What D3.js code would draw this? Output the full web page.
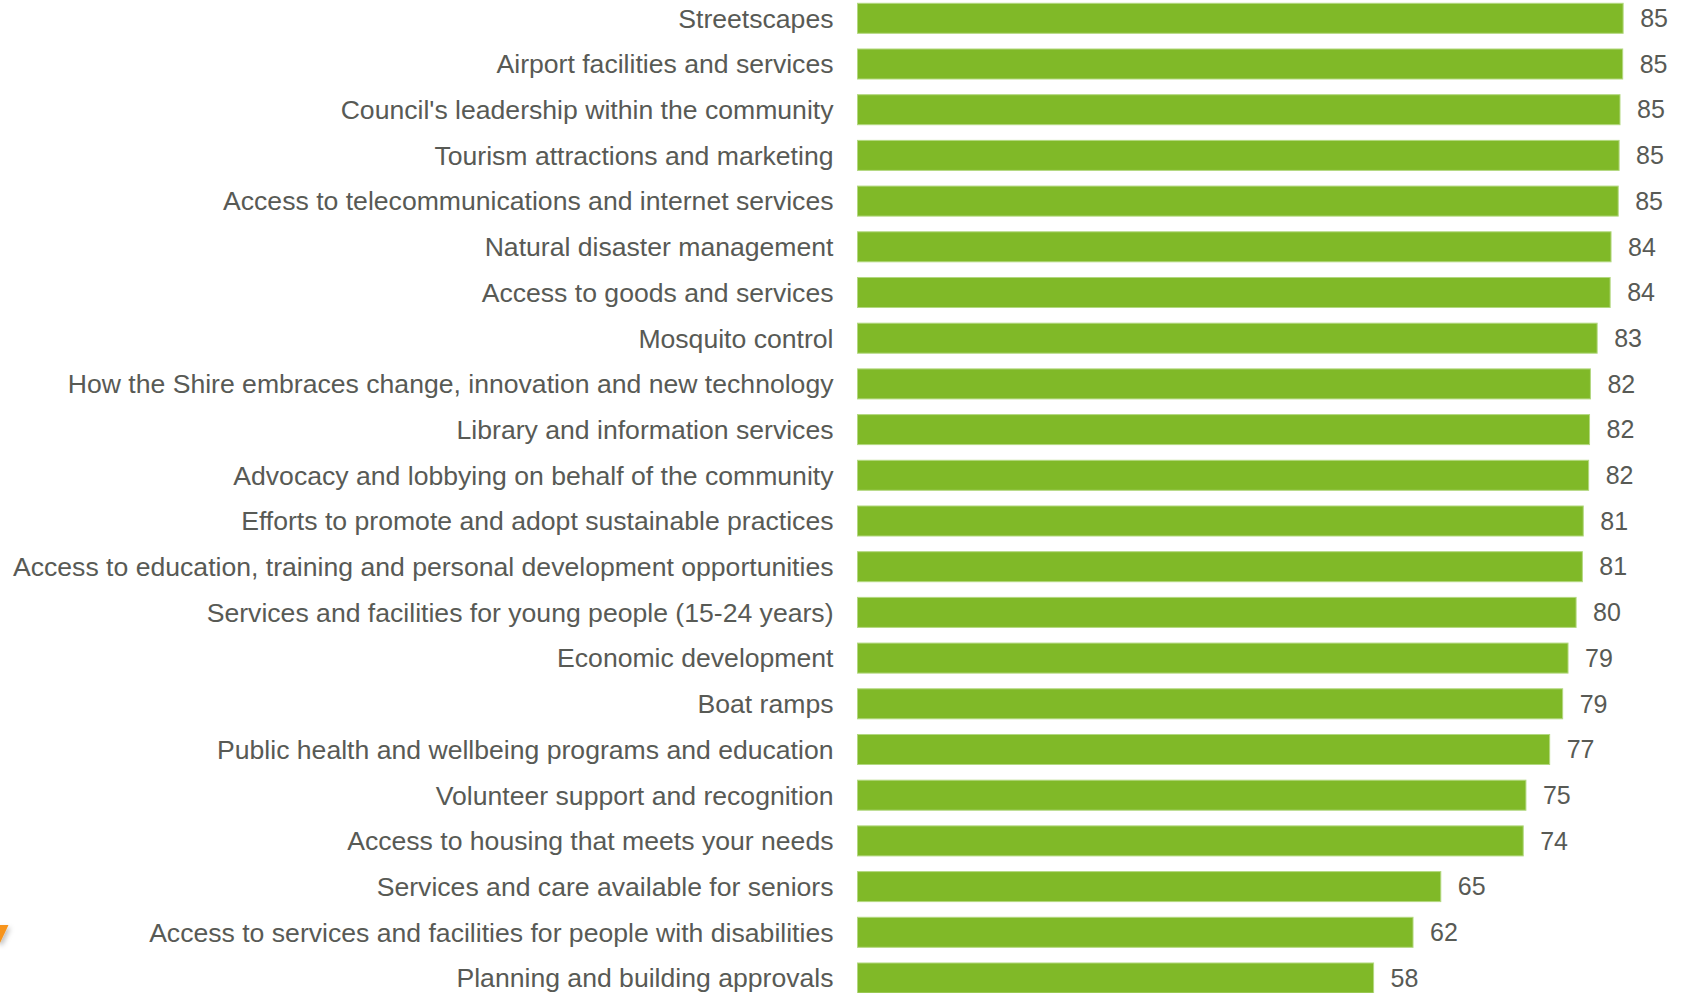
<!DOCTYPE html>
<html>
<head>
    <meta charset="utf-8">
    <style>
        html, body {
            margin: 0;
            padding: 0;
            background: #fff;
        }
        svg text {
            font-family: "Liberation Sans", Arial, sans-serif;
            fill: #585a55;
        }
    </style>
    <script src="https://d3js.org/d3.v7.min.js"></script>
</head>
<body>
    <div id="chart"></div>
    <script>
        // categories, top to bottom
        var categories = [
            "Streetscapes",
            "Airport facilities and services",
            "Council's leadership within the community",
            "Tourism attractions and marketing",
            "Access to telecommunications and internet services",
            "Natural disaster management",
            "Access to goods and services",
            "Mosquito control",
            "How the Shire embraces change, innovation and new technology",
            "Library and information services",
            "Advocacy and lobbying on behalf of the community",
            "Efforts to promote and adopt sustainable practices",
            "Access to education, training and personal development opportunities",
            "Services and facilities for young people (15-24 years)",
            "Economic development",
            "Boat ramps",
            "Public health and wellbeing programs and education",
            "Volunteer support and recognition",
            "Access to housing that meets your needs",
            "Services and care available for seniors",
            "Access to services and facilities for people with disabilities",
            "Planning and building approvals"
        ];

        // scores (labels show them rounded)
        var scores = [85.45, 85.4, 85.1, 85.0, 84.9, 84.1, 84.0, 82.55, 81.8, 81.7, 81.6,
            81.0, 80.9, 80.2, 79.3, 78.7, 77.25, 74.6, 74.3, 65.1, 62.0, 57.6];

        var width = 1682, height = 993;

        var data = categories.map(function (c, i) {
            return { name: c, value: scores[i] };
        });

        var svg = d3.select("#chart").append("svg")
            .attr("width", width)
            .attr("height", height);

        var x = d3.scaleLinear()
            .domain([0, 100])
            .range([857.5, 1753.5]);

        var y = d3.scaleBand()
            .domain(categories)
            .range([-4.55, 1000.85])
            .paddingInner(0.343)
            .paddingOuter(0.1715);

        // bars
        svg.selectAll("rect.bar")
            .data(data)
            .enter().append("rect")
            .attr("class", "bar")
            .attr("x", x(0))
            .attr("y", function (d) { return y(d.name); })
            .attr("width", function (d) { return x(d.value) - x(0); })
            .attr("height", y.bandwidth())
            .attr("fill", "#80b928")
            .attr("stroke", "#b3d880")
            .attr("stroke-width", 1);

        // category labels
        svg.selectAll("text.cat")
            .data(data)
            .enter().append("text")
            .attr("class", "cat")
            .attr("x", 833.5)
            .attr("y", function (d) { return y(d.name) + y.bandwidth() / 2; })
            .attr("dy", "0.35em")
            .attr("text-anchor", "end")
            .style("font-size", "26.6px")
            .text(function (d) { return d.name; });

        // value labels
        svg.selectAll("text.val")
            .data(data)
            .enter().append("text")
            .attr("class", "val")
            .attr("x", function (d) { return x(d.value) + 17; })
            .attr("y", function (d) { return y(d.name) + y.bandwidth() / 2; })
            .attr("dy", "0.35em")
            .style("font-size", "25px")
            .text(function (d) { return d3.format(".0f")(d.value); });

        // cut-off orange marker at the left edge
        var defs = svg.append("defs");
        var f = defs.append("filter").attr("id", "shadow")
            .attr("x", "-50%").attr("y", "-50%").attr("width", "200%").attr("height", "200%");
        f.append("feDropShadow").attr("dx", 2).attr("dy", 3)
            .attr("stdDeviation", 2.5).attr("flood-color", "#000").attr("flood-opacity", 0.25);
        svg.append("path")
            .attr("d", "M-20,925 L8.5,925 L0,943 Z")
            .attr("fill", "#f7941d")
            .attr("filter", "url(#shadow)");
    </script>
</body>
</html>
